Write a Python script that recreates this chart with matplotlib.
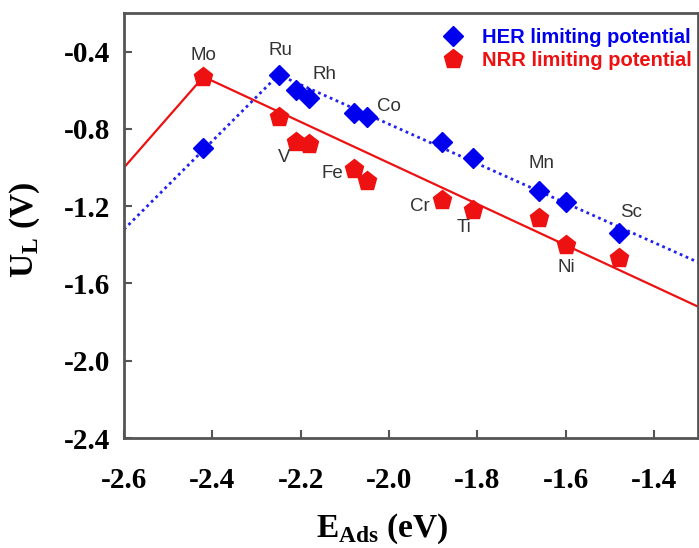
import matplotlib.pyplot as plt
import numpy as np

# HER limiting potential (blue diamonds)
her_x = [-2.42, -2.25, -2.21, -2.18, -2.08, -2.05, -1.88, -1.81, -1.66, -1.60, -1.48]
her_y = [-0.90, -0.52, -0.60, -0.64, -0.72, -0.74, -0.87, -0.95, -1.12, -1.18, -1.34]

# NRR limiting potential (red pentagons)
nrr_x = [-2.42, -2.25, -2.21, -2.18, -2.08, -2.05, -1.88, -1.81, -1.66, -1.60, -1.48]
nrr_y = [-0.53, -0.74, -0.87, -0.88, -1.01, -1.07, -1.17, -1.22, -1.26, -1.40, -1.47]

# volcano trend lines
nrr_line_x = [-2.6, -2.42, -1.3]
nrr_line_y = [-1.00, -0.53, -1.72]
her_line_x = [-2.6, -2.25, -1.3]
her_line_y = [-1.32, -0.52, -1.49]

# element labels
elem = ['Mo', 'Ru', 'Rh', 'V', 'Fe', 'Co', 'Mn', 'Cr', 'Ti', 'Sc', 'Ni']
elem_x = [-2.42, -2.246, -2.147, -2.237, -2.129, -2.0, -1.655, -1.93, -1.831, -1.452, -1.599]
elem_y = [-0.42, -0.395, -0.519, -0.948, -1.03, -0.684, -0.979, -1.20, -1.31, -1.232, -1.516]

fig = plt.figure(figsize=(6.99, 5.48), dpi=100)
ax = fig.add_axes([0.1774, 0.2007, 0.8212, 0.7756])

ax.plot(nrr_line_x, nrr_line_y, color='#ee1111', lw=1.6, zorder=2)
ax.plot(her_line_x, her_line_y, color='#2222ee', lw=2.0, ls=(0, (1, 1.3)), zorder=2)

ax.plot(her_x, her_y, 'D', color='#0000ee', ms=10, ls='none', zorder=3,
        label='HER limiting potential')
ax.plot(nrr_x, nrr_y, 'p', color='#ee1111', ms=14, ls='none', zorder=3,
        label='NRR limiting potential')

for t, x, y in zip(elem, elem_x, elem_y):
    ax.text(x, y, t, ha='center', va='center', fontsize=13.5,
            family='Liberation Sans', color='#333333')

ax.set_xlim(-2.6, -1.3)
ax.set_ylim(-2.4, -0.2)
ax.set_xticks([-2.6, -2.4, -2.2, -2.0, -1.8, -1.6, -1.4])
ax.set_yticks([-2.4, -2.0, -1.6, -1.2, -0.8, -0.4])
ax.set_xticklabels(['-2.6', '-2.4', '-2.2', '-2.0', '-1.8', '-1.6', '-1.4'])
ax.set_yticklabels(['-2.4', '-2.0', '-1.6', '-1.2', '-0.8', '-0.4'])

for lab in ax.get_xticklabels() + ax.get_yticklabels():
    lab.set_family('Liberation Serif')
    lab.set_weight('bold')
    lab.set_fontsize(21)

ax.tick_params(axis='x', direction='in', length=6, width=1.5, color='#555555', pad=21)
ax.tick_params(axis='y', direction='in', length=6, width=1.5, color='#555555', pad=10)
for s in ax.spines.values():
    s.set_color('#555555')
    s.set_linewidth(2)

ax.set_xlabel(r'E$_\mathregular{Ads}$ (eV)', family='Liberation Serif',
              weight='bold', fontsize=24)
ax.xaxis.set_label_coords((382 - 124) / 574, -0.172)
ax.set_ylabel(r'U$_\mathregular{L}$ (V)', family='Liberation Serif',
              weight='bold', fontsize=24)
ax.yaxis.set_label_coords(-0.143, 0.489)

leg = ax.legend(loc='upper left', bbox_to_anchor=(0.531, 0.998), frameon=False,
                handlelength=1.0, handletextpad=0.95, labelspacing=0.2,
                borderpad=0.2, prop={'family': 'Liberation Sans', 'weight': 'bold', 'size': 14.5})
for txt, c in zip(leg.get_texts(), ['#0000ee', '#ee1111']):
    txt.set_color(c)

fig.savefig('out.png', dpi=100)
